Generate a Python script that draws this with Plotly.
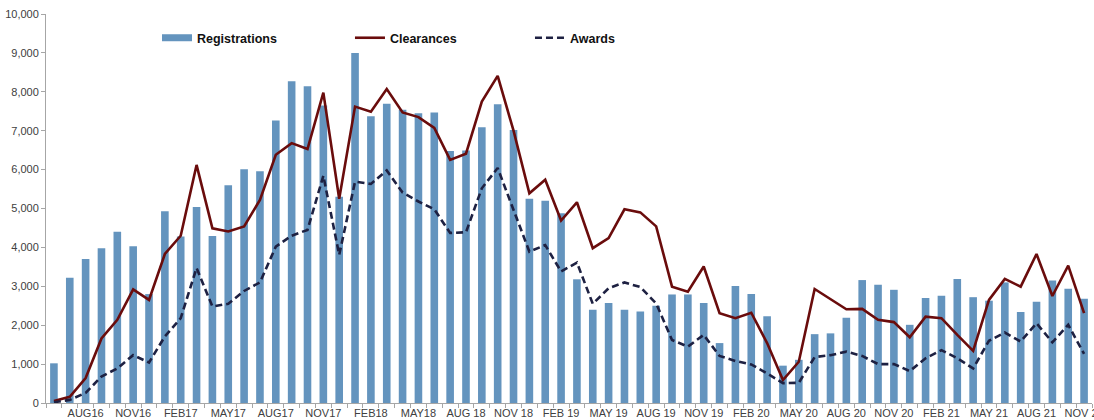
import plotly.graph_objects as go

months = [
    "JUN16", "JUL16", "AUG16", "SEP16", "OCT16", "NOV16", "DEC16",
    "JAN17", "FEB17", "MAR17", "APR17", "MAY17", "JUN17", "JUL17", "AUG17", "SEP17", "OCT17", "NOV17", "DEC17",
    "JAN18", "FEB18", "MAR18", "APR18", "MAY18", "JUN18", "JUL18", "AUG 18", "SEP 18", "OCT 18", "NOV 18", "DEC 18",
    "JAN 19", "FEB 19", "MAR 19", "APR 19", "MAY 19", "JUN 19", "JUL 19", "AUG 19", "SEP 19", "OCT 19", "NOV 19", "DEC 19",
    "JAN 20", "FEB 20", "MAR 20", "APR 20", "MAY 20", "JUN 20", "JUL 20", "AUG 20", "SEP 20", "OCT 20", "NOV 20", "DEC 20",
    "JAN 21", "FEB 21", "MAR 21", "APR 21", "MAY 21", "JUN 21", "JUL 21", "AUG 21", "SEP 21", "OCT 21", "NOV 21",
]

registrations = [
    1020, 3220, 3700, 3980, 4400, 4030, 2800,
    4930, 4280, 5040, 4290, 5600, 6010, 5960, 7260, 8270, 8140, 7650, 5300,
    9000, 7370, 7690, 7540, 7450, 7470, 6480, 6490, 7090, 7680, 7020, 5250,
    5200, 4880, 3180, 2400, 2570, 2400, 2350, 2500, 2790, 2790, 2570, 1540,
    3010, 2800, 2230, 960, 1110, 1770, 1790, 2190, 3160, 3040, 2910, 2010,
    2700, 2760, 3190, 2720, 2630, 3100, 2340, 2600, 3150, 2940, 2680,
]

clearances = [
    50, 160, 640, 1660, 2140, 2920, 2650,
    3830, 4300, 6120, 4490, 4410, 4540, 5220, 6380, 6680, 6530, 7980, 5250,
    7620, 7490, 8070, 7470, 7350, 7070, 6250, 6410, 7750, 8410, 7000, 5390,
    5740, 4690, 5160, 3980, 4240, 4980, 4900, 4540, 2990, 2860, 3510, 2310,
    2180, 2320, 1540, 590, 1060, 2930, 2680, 2410, 2420, 2140, 2080, 1690,
    2220, 2180, 1750, 1340, 2650, 3190, 2990, 3830, 2750, 3530, 2310,
]

awards = [
    20, 80, 260, 680, 890, 1230, 1040,
    1710, 2180, 3470, 2480, 2550, 2880, 3100, 4020, 4300, 4450, 5840, 3810,
    5690, 5630, 5980, 5410, 5180, 4980, 4370, 4390, 5520, 6040, 4970, 3890,
    4060, 3380, 3610, 2550, 2950, 3100, 2980, 2560, 1620, 1450, 1750, 1210,
    1080, 990, 760, 510, 520, 1180, 1230, 1320, 1210, 1000, 1000, 820,
    1150, 1360, 1150, 890, 1600, 1810, 1580, 2050, 1560, 2010, 1260,
]

idx = list(range(len(months)))
label_idx = idx[2::3]
label_text = [months[i] for i in label_idx]

BLUE = "#6494BE"
MAROON = "#6A0C0C"
NAVY = "#1E2142"

fig = go.Figure()
fig.add_trace(go.Bar(x=idx, y=registrations, width=0.48, marker=dict(color=BLUE, line=dict(width=0)),
                     name="Registrations", showlegend=False))
fig.add_trace(go.Scatter(x=[None], y=[None], mode="lines", line=dict(color=BLUE, width=7),
                         name="Registrations", legend="legend"))
fig.add_trace(go.Scatter(x=idx, y=clearances, mode="lines", line=dict(color=MAROON, width=2.6),
                         name="Clearances", legend="legend2"))
fig.add_trace(go.Scatter(x=idx, y=awards, mode="lines", line=dict(color=NAVY, width=2.6, dash="7px,4px"),
                         name="Awards", legend="legend3"))

legend_font = dict(size=12.5, color="#111111", family="Liberation Sans, Arial, sans-serif", weight="bold")
def leg(x):
    return dict(orientation="h", x=x, y=0.938, xanchor="left", yanchor="middle",
                font=legend_font, bgcolor="rgba(0,0,0,0)", itemwidth=30)

fig.update_layout(
    width=1094, height=420,
    margin=dict(l=46, r=2, t=14, b=17, autoexpand=False),
    plot_bgcolor="white", paper_bgcolor="white",
    font=dict(family="Liberation Sans, Arial, sans-serif", size=11, color="#404040"),
    showlegend=True,
    legend=leg(0.1061),
    legend2=leg(0.2906),
    legend3=leg(0.4627),
    bargap=0.5,
)
fig.update_xaxes(
    range=[-0.5, len(months) - 0.5], automargin=False,
    tickmode="array", tickvals=label_idx, ticktext=label_text,
    ticks="", showgrid=False, zeroline=False, ticklabeloverflow="allow",
    showline=True, linecolor="#A6A6A6", linewidth=1,
    tickfont=dict(size=11, color="#404040"),
    minor=dict(tickmode="linear", tick0=-0.5, dtick=1, ticks="outside", ticklen=4,
               tickcolor="#A6A6A6", showgrid=False),
)
fig.update_yaxes(
    range=[0, 10000], dtick=1000, tickformat=",", automargin=False,
    ticks="outside", ticklen=4, tickcolor="#A6A6A6", ticklabeloverflow="allow",
    showgrid=False, zeroline=False,
    showline=True, linecolor="#A6A6A6", linewidth=1,
    tickfont=dict(size=11, color="#404040"),
)

fig.write_html("out.html", config={"displayModeBar": False},
               post_script="document.body.style.margin='0';document.body.style.overflow='hidden';")
